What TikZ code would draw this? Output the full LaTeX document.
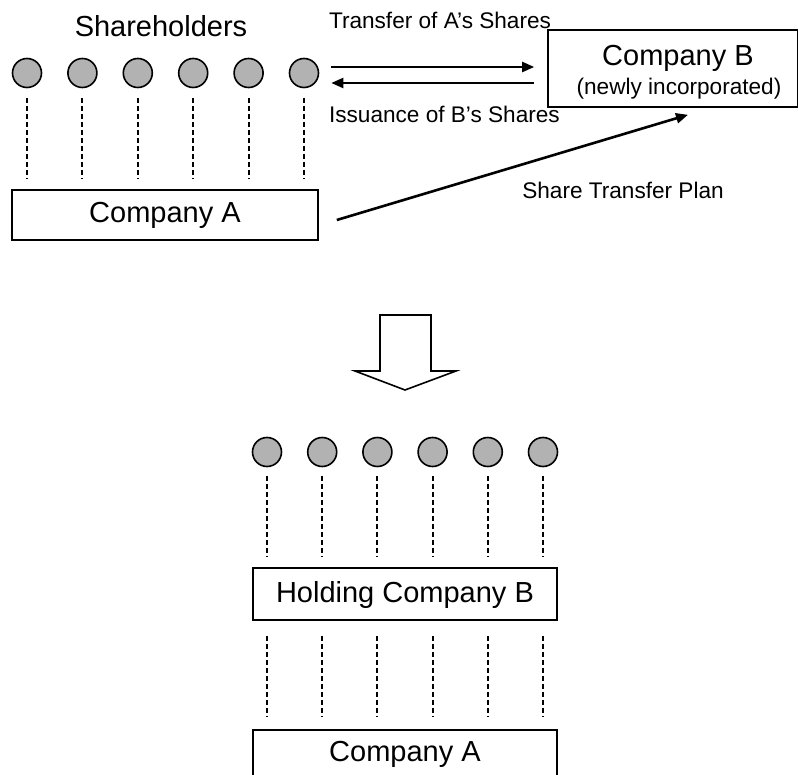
\documentclass[tikz,border=0pt]{standalone}
\usepackage{fontspec}
\setmainfont{Liberation Sans}
\usetikzlibrary{arrows.meta}
\tikzset{
  share/.style={circle,draw,line width=0.8pt,fill=black!30,minimum size=14.5pt,inner sep=0pt},
  firm/.style={draw,line width=0.8pt,inner sep=0pt,text height=0.8em,text depth=0pt,font=\fontsize{14.5}{17}\selectfont},
  big/.style={font=\fontsize{14.5}{17}\selectfont},
  small/.style={font=\fontsize{11.3}{13}\selectfont},
  link/.style={dash pattern=on 2.5pt off 1.5pt,line width=1pt},
  flow/.style={line width=1.1pt,-{Triangle[length=6pt,width=5pt]}},
}
\begin{document}
\begin{tikzpicture}[x=0.5pt,y=-0.5pt]
      \clip (0,0) rectangle (798,775);
      \draw
        (27,73) node[share] (a1){}
        (82.4,73) node[share] (a2){}
        (137.8,73) node[share] (a3){}
        (193.2,73) node[share] (a4){}
        (248.6,73) node[share] (a5){}
        (304,73) node[share] (a6){};
      \draw
        (267,452) node[share] (b1){}
        (322.2,452) node[share] (b2){}
        (377.4,452) node[share] (b3){}
        (432.6,452) node[share] (b4){}
        (487.8,452) node[share] (b5){}
        (543,452) node[share] (b6){};
      \node[big,anchor=base] (holders) at (161,37) {Shareholders};
      \node[firm,minimum width=153pt,minimum height=25pt] (compa) at (165,215) {Company A};
      \node[draw,line width=0.8pt,minimum width=125pt,minimum height=38.5pt,inner sep=0pt] (compb) at (673,68.5) {};
      \node[big,anchor=base] (compbname) at (678,66) {Company B};
      \node[small,anchor=base] (compbnote) at (679,95) {(newly incorporated)};
      \node[small,anchor=base west] (transfer) at (322,29) {Transfer of A's Shares};
      \node[small,anchor=base west] (issuance) at (322,123) {Issuance of B's Shares};
      \node[small,anchor=base] (plan) at (623,199) {Share Transfer Plan};
      \node[firm,minimum width=152pt,minimum height=26pt] (hold) at (405,594) {Holding Company B};
      \node[firm,minimum width=152pt,minimum height=23pt] (compa2) at (405,753) {Company A};
      \draw[flow,shorten <=6pt,shorten >=6.5pt] ([yshift=3pt]a6.east) -- ([yshift=3pt]a6.east -| compb.west);
      \draw[flow,shorten <=6.5pt,shorten >=6pt] ([yshift=-5pt]a6.east -| compb.west) -- ([yshift=-5pt]a6.east);
      \draw[flow,line width=1.3pt] ([xshift=9pt,yshift=-2.5pt]compa.east) -- ([xshift=7.5pt,yshift=-3.5pt]compb.south);
      \draw[line width=0.8pt,fill=white] (380,315) -- (431,315) -- (431,371) -- (456,371) -- (405,390) -- (355,371) -- (380,371) -- cycle;
      \begin{scope}[link,shorten <=4.75pt,shorten >=5pt]
        \draw (a1) -- (a1 |- compa.north);
        \draw (a2) -- (a2 |- compa.north);
        \draw (a3) -- (a3 |- compa.north);
        \draw (a4) -- (a4 |- compa.north);
        \draw (a5) -- (a5 |- compa.north);
        \draw (a6) -- (a6 |- compa.north);
      \end{scope}
      \begin{scope}[link,shorten <=4.25pt,shorten >=5.5pt]
        \draw (b1) -- (b1 |- hold.north);
        \draw (b2) -- (b2 |- hold.north);
        \draw (b3) -- (b3 |- hold.north);
        \draw (b4) -- (b4 |- hold.north);
        \draw (b5) -- (b5 |- hold.north);
        \draw (b6) -- (b6 |- hold.north);
      \end{scope}
      \begin{scope}[link,shorten <=7.5pt,shorten >=6pt]
        \draw (b1 |- hold.south) -- (b1 |- compa2.north);
        \draw (b2 |- hold.south) -- (b2 |- compa2.north);
        \draw (b3 |- hold.south) -- (b3 |- compa2.north);
        \draw (b4 |- hold.south) -- (b4 |- compa2.north);
        \draw (b5 |- hold.south) -- (b5 |- compa2.north);
        \draw (b6 |- hold.south) -- (b6 |- compa2.north);
      \end{scope}
    \end{tikzpicture}
\end{document}
